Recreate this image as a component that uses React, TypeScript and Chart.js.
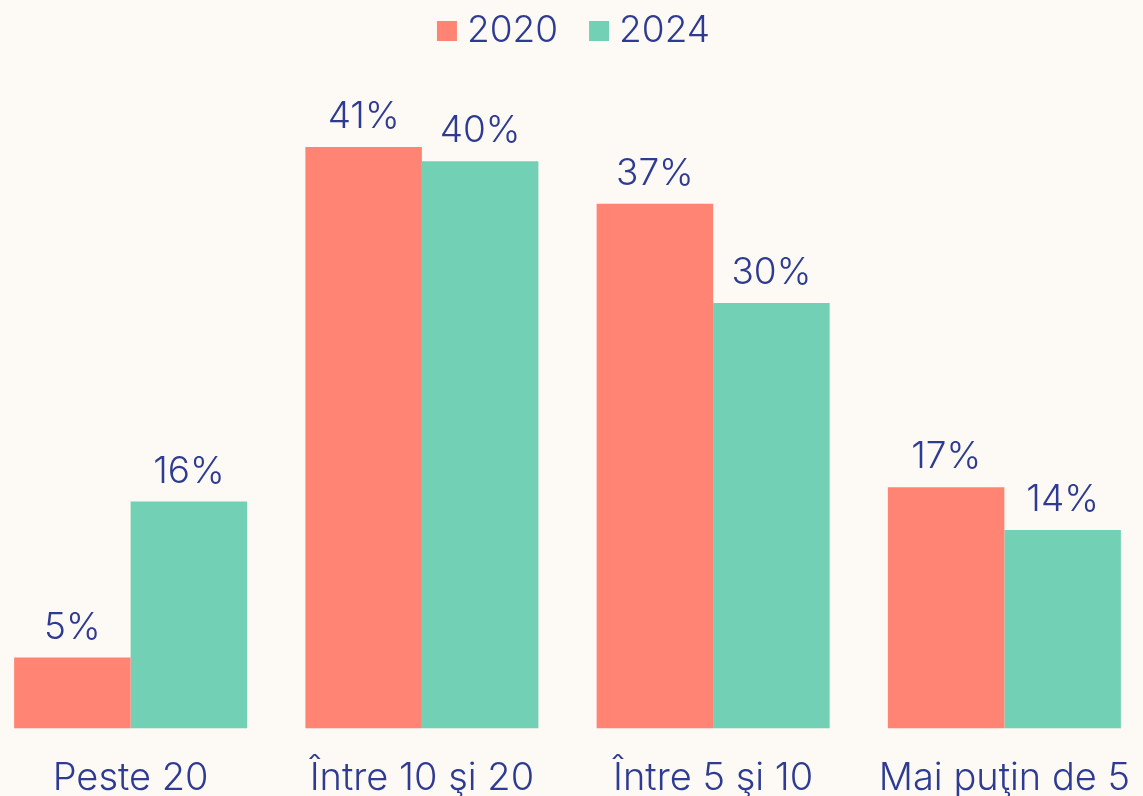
import React, { useEffect, useRef } from "react";
import { Chart, registerables } from "chart.js";

Chart.register(...registerables);

const categories = ["Peste 20", "Între 10 şi 20", "Între 5 şi 10", "Mai puţin de 5"];
const values2020 = [5, 41, 37, 17];
const values2024 = [16, 40, 30, 14];
const seriesLabels = ["2020", "2024"];
const seriesColors = ["#ff8474", "#72d0b4"];

const TEXT = "#2e3b92";
const FONT = "Inter, 'Noto Sans', sans-serif";
const WEIGHT = "300";

const valueLabels = {
  id: "valueLabels",
  afterDatasetsDraw(chart: any) {
    const ctx = chart.ctx;
    ctx.save();
    ctx.fillStyle = TEXT;
    ctx.font = `${WEIGHT} 37px ${FONT}`;
    ctx.textAlign = "center";
    ctx.textBaseline = "alphabetic";
    chart.data.datasets.forEach((ds: any, i: number) => {
      const meta = chart.getDatasetMeta(i);
      meta.data.forEach((el: any, j: number) => {
        ctx.fillText(ds.data[j] + "%", el.x, el.y - 19);
      });
    });
    ctx.restore();
  },
};

const topLegend = {
  id: "topLegend",
  afterDraw(chart: any) {
    const ctx = chart.ctx;
    ctx.save();
    ctx.font = `${WEIGHT} 37px ${FONT}`;
    ctx.textBaseline = "middle";
    ctx.textAlign = "left";
    const box = 20;
    const gap = 10;
    const itemGap = 31;
    const items = chart.data.datasets.map((ds: any) => ({
      label: ds.label,
      color: ds.backgroundColor,
      w: ctx.measureText(ds.label).width,
    }));
    const total = items.reduce((s: number, it: any) => s + box + gap + it.w, 0) + itemGap * (items.length - 1);
    let x = chart.width / 2 + 6 - total / 2;
    const cy = 31;
    items.forEach((it: any) => {
      ctx.fillStyle = it.color;
      ctx.fillRect(x, cy - box / 2, box, box);
      x += box + gap;
      ctx.fillStyle = TEXT;
      ctx.fillText(it.label, x, cy);
      x += it.w + itemGap;
    });
    ctx.restore();
  },
};

export default function App() {
  const ref = useRef<HTMLCanvasElement>(null);
  useEffect(() => {
    if (!ref.current) return;
    const chart = new Chart(ref.current, {
      type: "bar",
      data: {
        labels: categories,
        datasets: [
          { label: seriesLabels[0], data: values2020, backgroundColor: seriesColors[0], borderWidth: 0 },
          { label: seriesLabels[1], data: values2024, backgroundColor: seriesColors[1], borderWidth: 0 },
        ],
      },
      options: {
        responsive: false,
        animation: false,
        layout: { padding: { top: 62, bottom: 0, left: 0, right: 0 } },
        datasets: { bar: { categoryPercentage: 0.8, barPercentage: 1 } } as any,
        plugins: {
          legend: { display: false },
          tooltip: { enabled: false },
        },
        scales: {
          x: {
            grid: { display: false },
            border: { display: false },
            ticks: { color: TEXT, padding: 19, maxRotation: 0, font: { family: FONT, size: 38, weight: WEIGHT as any } },
          },
          y: { display: false, min: 0, max: 47 },
        },
      },
      plugins: [valueLabels, topLegend],
    });
    return () => chart.destroy();
  }, []);
  return (
    <div style={{ position: "fixed", left: 0, top: 0, width: 1143, height: 796, overflow: "hidden", background: "#fdf9f4" }}>
      <canvas ref={ref} width={1165} height={820} style={{ position: "absolute", left: -15, top: 0 }} />
    </div>
  );
}
